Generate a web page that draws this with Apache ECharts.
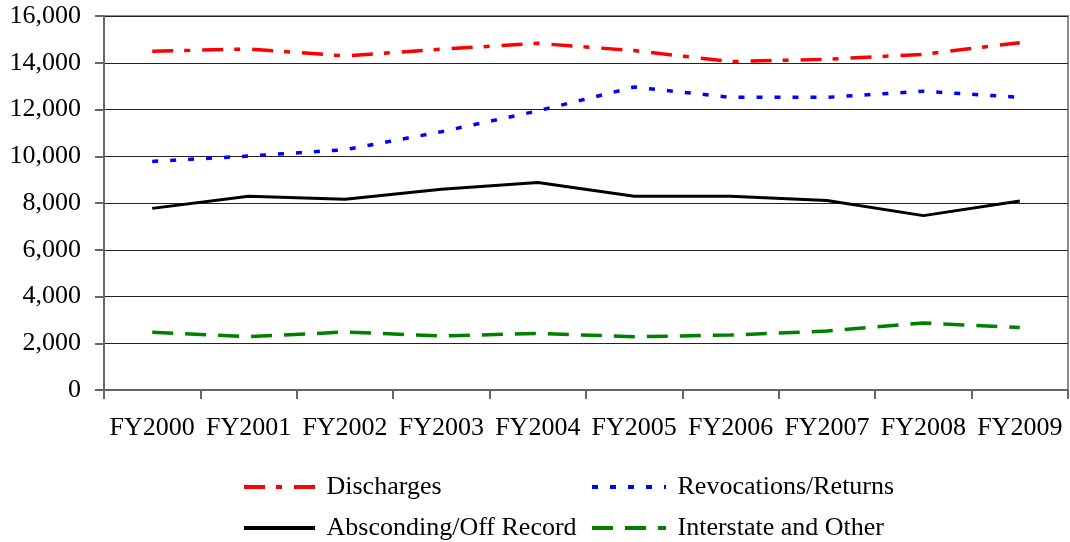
<!DOCTYPE html>
<html>
<head>
<meta charset="utf-8">
<script src="https://cdn.jsdelivr.net/npm/echarts@6/dist/echarts.min.js"></script>
<style>
html,body{margin:0;padding:0;background:#fff;}
#chart{width:1070px;height:542px;}
</style>
</head>
<body>
<div id="chart"></div>
<script>
const categories = ['FY2000','FY2001','FY2002','FY2003','FY2004','FY2005','FY2006','FY2007','FY2008','FY2009'];
const discharges = [14490, 14590, 14290, 14580, 14830, 14520, 14050, 14150, 14360, 14860];
const revocations = [9780, 10010, 10280, 11050, 11940, 12960, 12520, 12520, 12780, 12520];
const absconding = [7770, 8290, 8160, 8590, 8880, 8290, 8290, 8110, 7460, 8090];
const interstate = [2470, 2280, 2480, 2310, 2420, 2280, 2350, 2520, 2870, 2670];
const seriesNames = ['Discharges','Revocations/Returns','Absconding/Off Record','Interstate and Other'];

const FONT = "'Liberation Serif', 'Times New Roman', serif";
const chart = echarts.init(document.getElementById('chart'), null, {renderer:'canvas'});

function fmt(v){ return String(v).replace(/\B(?=(\d{3})+(?!\d))/g, ','); }

const legendText = {fontFamily: FONT, fontSize: 26, color: '#000', lineHeight: 26};

chart.setOption({
  animation: false,
  backgroundColor: '#fff',
  grid: {left: 104, right: 2, top: 16, bottom: 152, show: true, borderColor: '#8c8c8c', borderWidth: 2},
  legend: [
    {data: [seriesNames[0], seriesNames[2]], orient: 'vertical', left: 242, top: 474, height: 68,
     itemWidth: 71, itemHeight: 14, itemGap: 15, textStyle: legendText, selectedMode: false, padding: 0,
     formatter: function (n) { return ' ' + n; }, itemStyle: {opacity: 0}, lineStyle: {width: 4}},
    {data: [seriesNames[1], seriesNames[3]], orient: 'vertical', left: 590, top: 474, height: 68,
     itemWidth: 74, itemHeight: 14, itemGap: 15, textStyle: legendText, selectedMode: false, padding: 0,
     formatter: function (n) { return ' ' + n; }, itemStyle: {opacity: 0}, lineStyle: {width: 4}}
  ],
  xAxis: {
    type: 'category', data: categories, boundaryGap: true,
    axisLine: {lineStyle: {color: '#666', width: 2}},
    axisTick: {show: true, alignWithLabel: false, length: 9, lineStyle: {color: '#666', width: 2}},
    axisLabel: {fontFamily: FONT, fontSize: 26, color: '#000', margin: 25, interval: 0},
    splitLine: {show: false}
  },
  yAxis: {
    type: 'value', min: 0, max: 16000, interval: 2000,
    axisLine: {show: true, lineStyle: {color: '#666', width: 2}},
    axisTick: {show: true, length: 9, lineStyle: {color: '#666', width: 2}},
    axisLabel: {fontFamily: FONT, fontSize: 26, color: '#000', margin: 23, formatter: fmt},
    splitLine: {show: true, lineStyle: {color: '#222', width: 1}}
  },
  series: [
    {name: seriesNames[0], type: 'line', data: discharges, symbol: 'none', showSymbol: false,
     lineStyle: {color: '#ff0000', width: 3.5, type: [21, 11, 6, 12]}, itemStyle: {color: '#ff0000'}},
    {name: seriesNames[1], type: 'line', data: revocations, symbol: 'none', showSymbol: false,
     lineStyle: {color: '#0000ff', width: 3.5, type: [6, 12]}, itemStyle: {color: '#0000ff'}},
    {name: seriesNames[2], type: 'line', data: absconding, symbol: 'none', showSymbol: false,
     lineStyle: {color: '#000000', width: 3}, itemStyle: {color: '#000000'}},
    {name: seriesNames[3], type: 'line', data: interstate, symbol: 'none', showSymbol: false,
     lineStyle: {color: '#008000', width: 3.5, type: [21, 12]}, itemStyle: {color: '#008000'}}
  ]
});
</script>
</body>
</html>
